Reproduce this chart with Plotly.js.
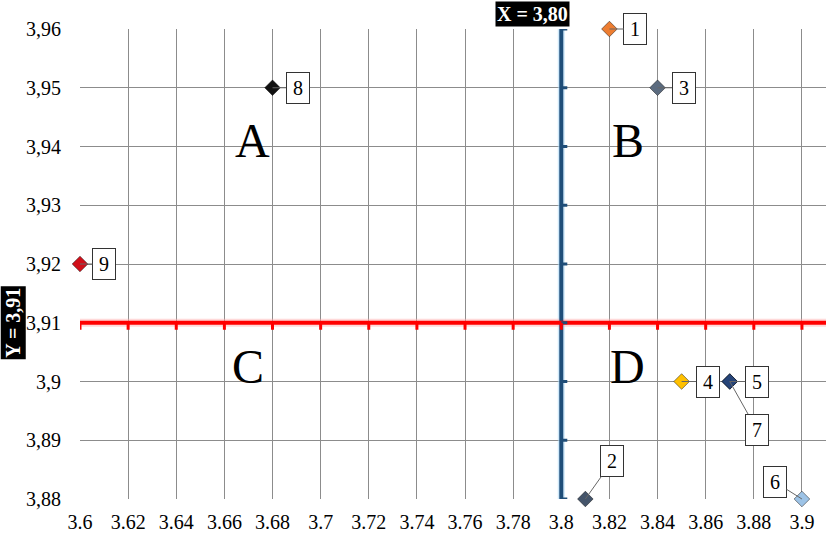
<!DOCTYPE html>
<html>
<head>
<meta charset="utf-8">
<script src="https://cdn.plot.ly/plotly-3.0.1.min.js"></script>
<style>html,body{margin:0;padding:0;background:#fff;}#chart{width:834px;height:534px;}</style>
</head>
<body>
<div id="chart"></div>
<script>
// Data
var pointLabels = ["1", "2", "3", "4", "5", "6", "7", "8", "9"];
var pointX = [3.82, 3.81, 3.84, 3.85, 3.87, 3.90, 3.87, 3.68, 3.60];
var pointY = [3.96, 3.88, 3.95, 3.90, 3.90, 3.88, 3.90, 3.95, 3.92];
var pointColors = ["#ED7D31", "#44546A", "#5B6B7F", "#FFC000", "#1F3864", "#9DC3E6", "#264478", "#111111", "#D0101A"];
var xTickVals = [3.6, 3.62, 3.64, 3.66, 3.68, 3.7, 3.72, 3.74, 3.76, 3.78, 3.8, 3.82, 3.84, 3.86, 3.88, 3.9];
var xTickText = ["3.6", "3.62", "3.64", "3.66", "3.68", "3.7", "3.72", "3.74", "3.76", "3.78", "3.8", "3.82", "3.84", "3.86", "3.88", "3.9"];
var yTickVals = [3.88, 3.89, 3.90, 3.91, 3.92, 3.93, 3.94, 3.95, 3.96];
var yTickText = ["3,88", "3,89", "3,9", "3,91", "3,92", "3,93", "3,94", "3,95", "3,96"];
var thresholdX = 3.80, thresholdY = 3.91;
var xLabel = "X = 3,80", yLabel = "Y = 3,91";
var quadrantNames = ["A", "B", "C", "D"];
var quadrantX = [3.6715, 3.8277, 3.6698, 3.8277];
var quadrantY = [3.9411, 3.9411, 3.9025, 3.9025];
// callout offsets (px) for each label
var calloutAx = [26, 27, 26, 26, 27, -27, 27, 25, 24];
var calloutAy = [0, -38, 0, 0, 0, -17, 48, 0, 0];

var xRange = [3.6, 3.91];
var yRange = [3.88, 3.96];
var serif = "Times New Roman, Liberation Serif, serif";

var traces = [];
traces.push({x: [thresholdX, thresholdX], y: yRange, mode: "lines", line: {color: "rgba(170,215,245,0.55)", width: 7}, hoverinfo: "skip", showlegend: false});
traces.push({x: xRange, y: [thresholdY, thresholdY], mode: "lines", line: {color: "rgba(255,170,170,0.45)", width: 8}, hoverinfo: "skip", showlegend: false});
traces.push({x: [thresholdX, thresholdX], y: yRange, mode: "lines", line: {color: "#1F4E79", width: 4}, hoverinfo: "skip", showlegend: false});
traces.push({x: xRange, y: [thresholdY, thresholdY], mode: "lines", line: {color: "#FF0000", width: 4}, hoverinfo: "skip", showlegend: false});
traces.push({
  x: pointX, y: pointY, mode: "markers", showlegend: false, cliponaxis: false,
  marker: {symbol: "diamond", size: 12, color: pointColors, line: {color: "rgba(0,0,0,0.45)", width: 1}}
});

var shapes = [];
yTickVals.forEach(function (v) {
  shapes.push({type: "line", xref: "x", yref: "y", xsizemode: "pixel", xanchor: thresholdX, x0: 0, x1: 6, y0: v, y1: v, line: {color: "#1F4E79", width: 3}});
});
xTickVals.forEach(function (v) {
  shapes.push({type: "line", xref: "x", yref: "y", ysizemode: "pixel", yanchor: thresholdY, y0: 0, y1: -7, x0: v, x1: v, line: {color: "#FF0000", width: 3}});
});

var annotations = [];
pointLabels.forEach(function (t, i) {
  annotations.push({
    x: pointX[i], y: pointY[i], xref: "x", yref: "y", text: t,
    showarrow: true, arrowhead: 0, arrowwidth: 1, arrowcolor: "#666", ax: calloutAx[i], ay: calloutAy[i],
    bgcolor: "#fff", bordercolor: "#333", borderwidth: 1, borderpad: 3, width: 16, height: 24,
    font: {family: serif, size: 20, color: "#000"}
  });
});
quadrantNames.forEach(function (t, i) {
  annotations.push({x: quadrantX[i], y: quadrantY[i], xref: "x", yref: "y", text: t, showarrow: false, font: {family: serif, size: 48, color: "#000"}});
});
annotations.push({x: thresholdX, y: 1, xref: "x", yref: "paper", yanchor: "bottom", xshift: -29, yshift: 2, text: "<b>" + xLabel + "</b>", showarrow: false, bgcolor: "#000", borderpad: 1, font: {family: serif, size: 20, color: "#fff"}});
annotations.push({x: 0, xref: "paper", xanchor: "right", xshift: -54, y: thresholdY, yref: "y", text: "<b>" + yLabel + "</b>", textangle: -90, showarrow: false, bgcolor: "#000", borderpad: 1, font: {family: serif, size: 20, color: "#fff"}});

var layout = {
  width: 834, height: 534,
  margin: {l: 80, r: 8, t: 29, b: 35},
  paper_bgcolor: "#fff", plot_bgcolor: "#fff",
  font: {family: serif, size: 20, color: "#000"},
  showlegend: false,
  xaxis: {range: xRange, tickvals: xTickVals, ticktext: xTickText, showgrid: true, gridcolor: "#8c8c8c", gridwidth: 1, zeroline: false, showline: false, ticks: "outside", ticklen: 5, tickcolor: "rgba(0,0,0,0)", tickfont: {family: serif, size: 20, color: "#000"}, fixedrange: true},
  yaxis: {range: yRange, tickvals: yTickVals, ticktext: yTickText, showgrid: true, gridcolor: "#8c8c8c", gridwidth: 1, zeroline: false, showline: false, ticks: "outside", ticklen: 14, tickcolor: "rgba(0,0,0,0)", tickfont: {family: serif, size: 20, color: "#000"}, fixedrange: true},
  shapes: shapes,
  annotations: annotations
};

Plotly.newPlot("chart", traces, layout, {displayModeBar: false, staticPlot: true});
</script>
</body>
</html>
